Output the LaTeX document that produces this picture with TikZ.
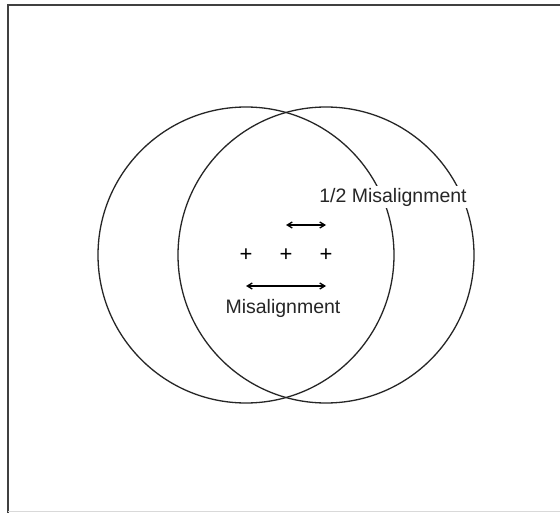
\documentclass[tikz,border=0pt]{standalone}
\usepackage{fontspec}
\setmainfont{Liberation Sans}
\usetikzlibrary{arrows.meta,calc,positioning}
\tikzset{
  ring/.style      = {line width=1.3pt, black!85},
  frameline/.style = {line width=2.2pt, black!75},
  shift arrow/.style = {{Straight Barb[length=5pt,width=6pt]}-{Straight Barb[length=5pt,width=6pt]}, line width=1.3pt},
  centre/.style    = {font=\fontsize{22}{24}\selectfont, inner sep=0pt},
  label/.style     = {font=\fontsize{19.5}{22}\selectfont, inner sep=2pt, fill=white, text=black!85},
}

\begin{document}
\begin{tikzpicture}[x=1pt,y=-1pt]
  \useasboundingbox (0,0) rectangle (560,513);
  \fill[white] (0,0) rectangle (560,513);
  \draw[frameline] (8,513) -- (8,5) -- (562,5);
  \draw[line width=0.6pt, black!15] (8,511) -- (560,511);

  \coordinate (cL) at (246,255);
  \coordinate (cR) at (326,255);
  \coordinate (cM) at ($(cL)!0.5!(cR)$);

  \draw[ring] (cL) circle[radius=148];
  \draw[ring] (cR) circle[radius=148];

  % centres
  \node[centre] (pL) at (cL) {+};
  \node[centre] (pM) at (cM) {+};
  \node[centre] (pR) at (cR) {+};

  % half shift
  \coordinate (hA) at ($(cM)+(0,-30)$);
  \coordinate (hB) at ($(cR)+(0,-30)$);
  \draw[shift arrow] (hA) -- (hB);
  \node[label] (half) at (393,197) {1/2 Misalignment};

  % full shift
  \coordinate (fA) at ($(cL)+(0,31)$);
  \coordinate (fB) at ($(cR)+(0,31)$);
  \draw[shift arrow] (fA) -- (fB);
  \node[label] (full) at (283,308) {Misalignment};
\end{tikzpicture}
\end{document}
